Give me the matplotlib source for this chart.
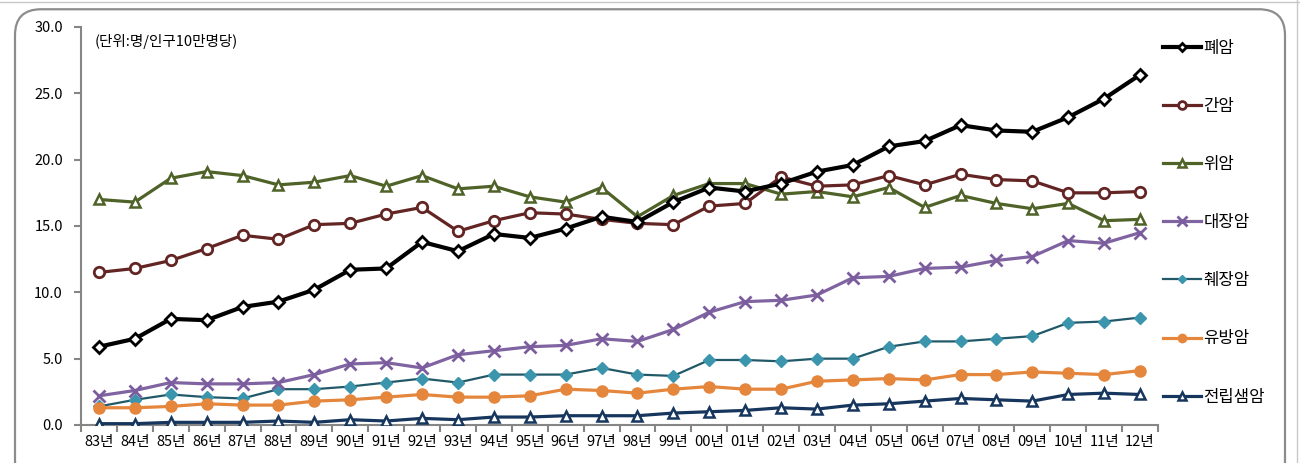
import matplotlib
matplotlib.use('Agg')
import matplotlib.pyplot as plt
from matplotlib.patches import FancyBboxPatch
import numpy as np

plt.rcParams['font.family'] = ['Noto Sans CJK KR', 'DejaVu Sans']

years = ['83년', '84년', '85년', '86년', '87년', '88년', '89년', '90년', '91년', '92년',
         '93년', '94년', '95년', '96년', '97년', '98년', '99년', '00년', '01년', '02년',
         '03년', '04년', '05년', '06년', '07년', '08년', '09년', '10년', '11년', '12년']

lung = [5.9, 6.5, 8.0, 7.9, 8.9, 9.3, 10.2, 11.7, 11.8, 13.8,
        13.1, 14.4, 14.1, 14.8, 15.7, 15.3, 16.8, 17.9, 17.6, 18.2,
        19.1, 19.6, 21.0, 21.4, 22.6, 22.2, 22.1, 23.2, 24.6, 26.4]
liver = [11.5, 11.8, 12.4, 13.3, 14.3, 14.0, 15.1, 15.2, 15.9, 16.4,
         14.6, 15.4, 16.0, 15.9, 15.5, 15.2, 15.1, 16.5, 16.7, 18.7,
         18.0, 18.1, 18.8, 18.1, 18.9, 18.5, 18.4, 17.5, 17.5, 17.6]
stomach = [17.0, 16.8, 18.6, 19.1, 18.8, 18.1, 18.3, 18.8, 18.0, 18.8,
           17.8, 18.0, 17.2, 16.8, 17.9, 15.7, 17.3, 18.2, 18.2, 17.4,
           17.6, 17.2, 17.9, 16.4, 17.3, 16.7, 16.3, 16.7, 15.4, 15.5]
colon = [2.2, 2.6, 3.2, 3.1, 3.1, 3.2, 3.8, 4.6, 4.7, 4.3,
         5.3, 5.6, 5.9, 6.0, 6.5, 6.3, 7.2, 8.5, 9.3, 9.4,
         9.8, 11.1, 11.2, 11.8, 11.9, 12.4, 12.7, 13.9, 13.7, 14.5]
pancreas = [1.4, 1.9, 2.3, 2.1, 2.0, 2.7, 2.7, 2.9, 3.2, 3.5,
            3.2, 3.8, 3.8, 3.8, 4.3, 3.8, 3.7, 4.9, 4.9, 4.8,
            5.0, 5.0, 5.9, 6.3, 6.3, 6.5, 6.7, 7.7, 7.8, 8.1]
breast = [1.3, 1.3, 1.4, 1.6, 1.5, 1.5, 1.8, 1.9, 2.1, 2.3,
          2.1, 2.1, 2.2, 2.7, 2.6, 2.4, 2.7, 2.9, 2.7, 2.7,
          3.3, 3.4, 3.5, 3.4, 3.8, 3.8, 4.0, 3.9, 3.8, 4.1]
prostate = [0.1, 0.1, 0.2, 0.2, 0.2, 0.3, 0.2, 0.4, 0.3, 0.5,
            0.4, 0.6, 0.6, 0.7, 0.7, 0.7, 0.9, 1.0, 1.1, 1.3,
            1.2, 1.5, 1.6, 1.8, 2.0, 1.9, 1.8, 2.3, 2.4, 2.3]

fig = plt.figure(figsize=(13, 4.63), dpi=100)

# rounded chart frame
frame = FancyBboxPatch((15 / 1300, -0.05), 1270 / 1300, 1.03, transform=fig.transFigure,
                       boxstyle='round,pad=0,rounding_size=0.02', fill=False,
                       edgecolor='#8c8c8c', linewidth=1.6, mutation_aspect=2.8)
fig.patches.append(frame)
fig.add_artist(plt.Line2D([0, 1], [0.995, 0.995], color='#c8c8c8', lw=1, transform=fig.transFigure))
fig.add_artist(plt.Line2D([0.998, 0.998], [0, 1], color='#c8c8c8', lw=1, transform=fig.transFigure))

ax = fig.add_axes([81 / 1300, 1 - 425 / 463, (1158 - 81) / 1300, (425 - 27) / 463])
x = np.arange(len(years))

ax.plot(x, lung, color='black', lw=3, marker='D', ms=6, mfc='white', mec='black', mew=2, label='폐암', zorder=7)
ax.plot(x, liver, color='#632523', lw=2.3, marker='o', ms=7.5, mfc='white', mec='#632523', mew=2, label='간암', zorder=6)
ax.plot(x, stomach, color='#4F6228', lw=2.3, marker='^', ms=7.5, mfc='white', mec='#4F6228', mew=1.8, label='위암', zorder=5)
ax.plot(x, colon, color='#8064A2', lw=2.3, marker='x', ms=9, mec='#7B5C9E', mew=2, label='대장암', zorder=4)
ax.plot(x, pancreas, color='#215968', lw=1.6, marker='D', ms=6, mfc='#3A95AD', mec='#3A95AD', label='췌장암', zorder=3)
ax.plot(x, breast, color='#E5863D', lw=2.3, marker='o', ms=8, mfc='#E5863D', mec='#E5863D', label='유방암', zorder=3)
ax.plot(x, prostate, color='#17365D', lw=2.3, marker='^', ms=7.5, mfc='white', mec='#17365D', mew=1.8, label='전립샘암', zorder=3)

ax.set_xlim(-0.5, len(years) - 0.5)
ax.set_ylim(0, 30)
ax.set_yticks(np.arange(0, 30.1, 5))
ax.set_yticklabels(['%.1f' % v for v in np.arange(0, 30.1, 5)], fontsize=10.5)
ax.set_xticks(np.arange(-0.5, len(years), 1))
ax.set_xticklabels([])
ax.set_xticks(x, minor=True)
ax.set_xticklabels(years, minor=True, fontsize=10.5)
ax.tick_params(axis='x', which='major', length=5, color='#868686', width=1.5)
ax.tick_params(axis='x', which='minor', length=0, pad=7)
ax.tick_params(axis='y', length=5, color='#868686', width=1.5, pad=8)
for s in ['top', 'right']:
    ax.spines[s].set_visible(False)
for s in ['left', 'bottom']:
    ax.spines[s].set_color('#868686')
    ax.spines[s].set_linewidth(1.5)
ax.set_facecolor('none')

ax.text(0.013, 0.983, '(단위:명/인구10만명당)', transform=ax.transAxes, fontsize=10.5, va='top', ha='left')

ax.legend(loc='upper left', bbox_to_anchor=(0.998, 0.985), frameon=False, fontsize=12,
          labelspacing=2.47, handlelength=2.3, handletextpad=0.15, borderaxespad=0,
          markerscale=0.75)

fig.savefig('out.png', dpi=100)
